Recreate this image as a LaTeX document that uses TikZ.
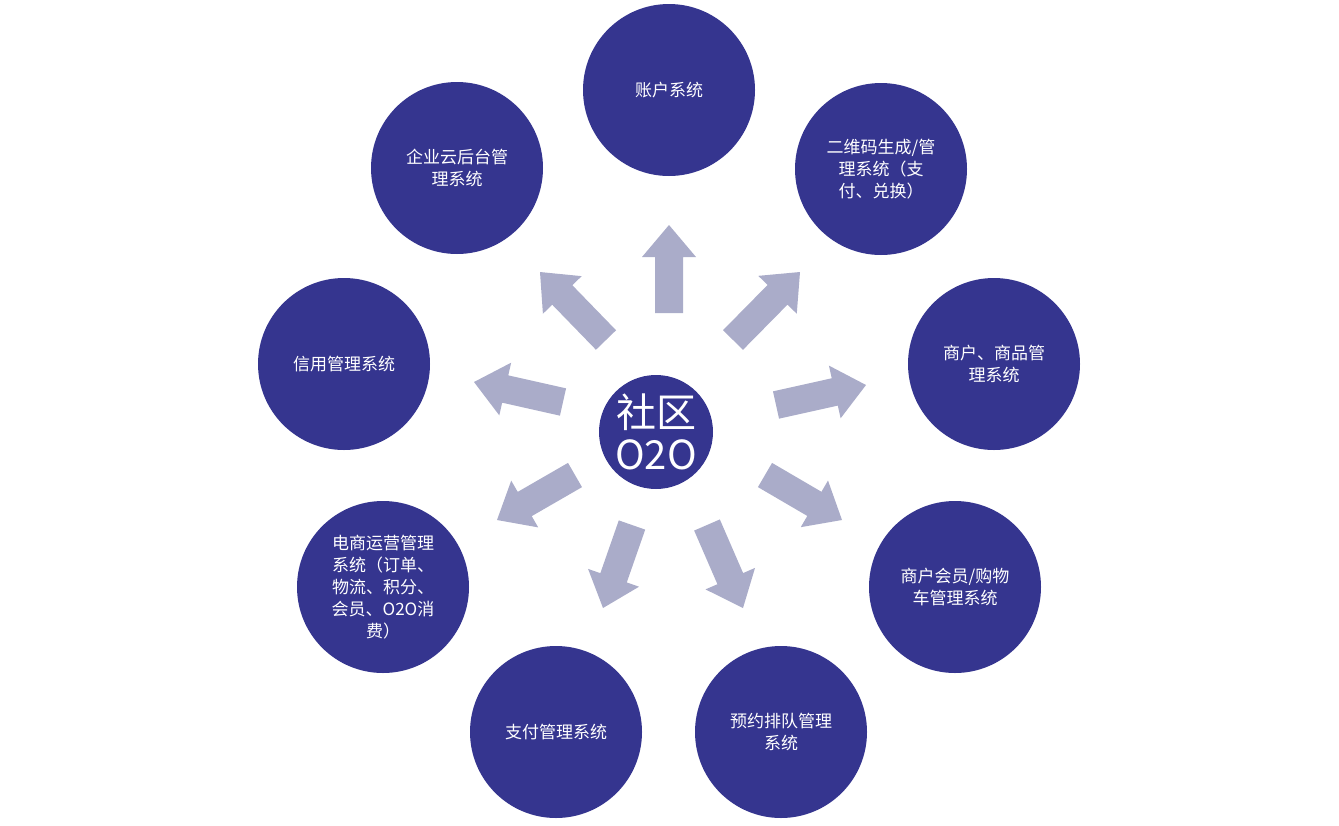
\documentclass[tikz,border=0pt]{standalone}
\usepackage{fontspec}
\newfontfamily\cjk{Noto Sans CJK SC}
\usetikzlibrary{calc}
\definecolor{circ}{HTML}{35358F}
\definecolor{arr}{HTML}{AAACC9}
\tikzset{
  sys/.style={circle,fill=circ,minimum size=172pt,inner sep=0pt,text=white,align=center,font=\cjk\fontsize{17}{22}\selectfont},
  hub/.style={circle,fill=circ,minimum size=114pt,inner sep=0pt,text=white,align=center,font=\cjk\fontsize{40}{46}\selectfont},
  arrfill/.style={fill=arr}
}
\newcommand\barrow[2]{%
  \coordinate (H) at ($(#2)!32pt!(#1)$);
  \fill[arrfill] ($(#1)!14pt!90:(#2)$) -- ($(H)!14pt!-90:(#1)$) -- ($(H)!27pt!-90:(#1)$) -- (#2)
    -- ($(H)!27pt!90:(#1)$) -- ($(H)!14pt!90:(#1)$) -- ($(#1)!14pt!-90:(#2)$) -- cycle;}
\begin{document}
\begin{tikzpicture}[x=1pt,y=-1pt]
\useasboundingbox (0,0) rectangle (1339,825);
\node[sys] (a) at (669,90) {账户系统};
\node[sys] (b) at (457,168) {企业云后台管\\理系统};
\node[sys] (c) at (881,169) {二维码生成/管\\理系统（支\\付、兑换）};
\node[sys] (d) at (344,364) {信用管理系统};
\node[sys] (e) at (994,364) {商户、商品管\\理系统};
\node[sys] (f) at (383,587) {电商运营管理\\系统（订单、\\物流、积分、\\会员、O2O消\\费）};
\node[sys] (g) at (955,587) {商户会员/购物\\车管理系统};
\node[sys] (h) at (556,732) {支付管理系统};
\node[sys] (i) at (781,732) {预约排队管理\\系统};
\node[hub] (o) at (656,432) {社区\\[-4pt]O2O};
\coordinate (b1) at (669,313); \coordinate (t1) at (669,225);
\coordinate (b2) at (606,340); \coordinate (t2) at (540,272);
\coordinate (b3) at (733,340); \coordinate (t3) at (800,272);
\coordinate (b4) at (563,402); \coordinate (t4) at (474,382);
\coordinate (b5) at (776,405); \coordinate (t5) at (866,385);
\coordinate (b6) at (575,475); \coordinate (t6) at (497,520);
\coordinate (b7) at (765,475); \coordinate (t7) at (842,520);
\coordinate (b8) at (632,525); \coordinate (t8) at (603,608);
\coordinate (b9) at (707,525); \coordinate (t9) at (743,608);
\barrow{b1}{t1}\barrow{b2}{t2}\barrow{b3}{t3}\barrow{b4}{t4}\barrow{b5}{t5}
\barrow{b6}{t6}\barrow{b7}{t7}\barrow{b8}{t8}\barrow{b9}{t9}
\end{tikzpicture}
\end{document}
